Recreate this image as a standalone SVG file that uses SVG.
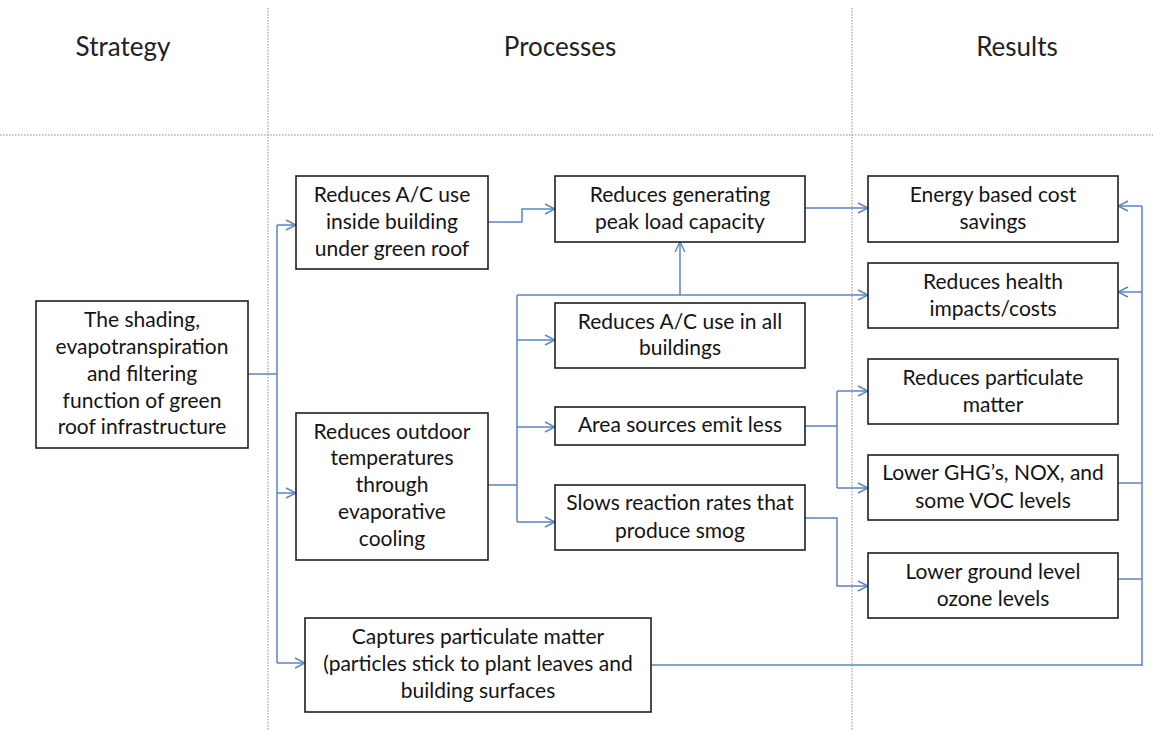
<svg xmlns="http://www.w3.org/2000/svg" width="1153" height="730" viewBox="0 0 1153 730">
<style>
.box{fill:#fff;stroke:#1e1e1e;stroke-width:1.6}
.t{font-family:Lato,"Open Sans","Liberation Sans",sans-serif;font-size:21px;fill:#141414;text-anchor:middle}
.h{font-family:Lato,"Open Sans","Liberation Sans",sans-serif;font-size:26px;fill:#222;text-anchor:middle}
.dot{stroke:#8a8a8a;stroke-width:1;stroke-dasharray:1.5,1.5;fill:none}
.c{fill:none;stroke:#5a86c0;stroke-width:1.5}
.a{marker-end:url(#arr)}
</style>
<defs>
<marker id="arr" markerUnits="userSpaceOnUse" markerWidth="12" markerHeight="12" viewBox="0 0 12 12" refX="11" refY="6" orient="auto">
<path d="M1,1 L11,6 L1,11" fill="none" stroke="#5a86c0" stroke-width="1.4"/>
</marker>
</defs>
<rect width="1153" height="730" fill="#fff"/>
<g id="grid">
<line class="dot" x1="268" y1="8" x2="268" y2="730"/>
<line class="dot" x1="852" y1="8" x2="852" y2="730"/>
<line class="dot" x1="0" y1="135" x2="1153" y2="135"/>
<text class="h" x="123" y="56">Strategy</text>
<text class="h" x="560" y="56">Processes</text>
<text class="h" x="1017" y="56">Results</text>
</g>
<g id="connectors">
<path class="c" d="M248,374 H277"/>
<path class="c" d="M277,225 V663"/>
<path class="c a" d="M277,225 H296"/>
<path class="c a" d="M277,493 H296"/>
<path class="c a" d="M277,663 H305"/>
<path class="c a" d="M488,222 H522 V209 H555"/>
<path class="c a" d="M805,208 H868"/>
<path class="c" d="M488,485 H517"/>
<path class="c" d="M517,295 V522"/>
<path class="c a" d="M517,295 H868"/>
<path class="c a" d="M680,295 V242"/>
<path class="c a" d="M517,340 H555"/>
<path class="c a" d="M517,427 H555"/>
<path class="c a" d="M517,522 H555"/>
<path class="c" d="M805,426 H837"/>
<path class="c" d="M837,391 V488"/>
<path class="c a" d="M837,391 H868"/>
<path class="c a" d="M837,488 H868"/>
<path class="c a" d="M805,518 H837 V586 H868"/>
<path class="c" d="M1142,206 V666"/>
<path class="c a" d="M1142,206 H1118"/>
<path class="c a" d="M1142,292 H1118"/>
<path class="c" d="M1118,483 H1142"/>
<path class="c" d="M1118,579 H1142"/>
<path class="c" d="M651,665 H1142"/>
</g>
<g id="strategy">
<rect class="box" x="36" y="301" width="212" height="147"/>
<text class="t" x="142" y="327">The shading,</text>
<text class="t" x="142" y="354">evapotranspiration</text>
<text class="t" x="142" y="381">and filtering</text>
<text class="t" x="142" y="408">function of green</text>
<text class="t" x="142" y="434">roof infrastructure</text>
</g>
<g id="ac-inside">
<rect class="box" x="296" y="176" width="192" height="93"/>
<text class="t" x="392" y="202">Reduces A/C use</text>
<text class="t" x="392" y="229">inside building</text>
<text class="t" x="392" y="256">under green roof</text>
</g>
<g id="outdoor">
<rect class="box" x="296" y="413" width="192" height="147"/>
<text class="t" x="392" y="439">Reduces outdoor</text>
<text class="t" x="392" y="465">temperatures</text>
<text class="t" x="392" y="492">through</text>
<text class="t" x="392" y="519">evaporative</text>
<text class="t" x="392" y="546">cooling</text>
</g>
<g id="captures">
<rect class="box" x="305" y="618" width="346" height="94"/>
<text class="t" x="478" y="644">Captures particulate matter</text>
<text class="t" x="478" y="671">(particles stick to plant leaves and</text>
<text class="t" x="478" y="698">building surfaces</text>
</g>
<g id="peak">
<rect class="box" x="555" y="176" width="250" height="66"/>
<text class="t" x="680" y="202">Reduces generating</text>
<text class="t" x="680" y="229">peak load capacity</text>
</g>
<g id="ac-all">
<rect class="box" x="555" y="303" width="250" height="65"/>
<text class="t" x="680" y="329">Reduces A/C use in all</text>
<text class="t" x="680" y="355">buildings</text>
</g>
<g id="area">
<rect class="box" x="555" y="407" width="250" height="38"/>
<text class="t" x="680" y="432">Area sources emit less</text>
</g>
<g id="slows">
<rect class="box" x="555" y="485" width="250" height="65"/>
<text class="t" x="680" y="510">Slows reaction rates that</text>
<text class="t" x="680" y="538">produce smog</text>
</g>
<g id="energy">
<rect class="box" x="868" y="176" width="250" height="66"/>
<text class="t" x="993" y="202">Energy based cost</text>
<text class="t" x="993" y="229">savings</text>
</g>
<g id="health">
<rect class="box" x="868" y="263" width="250" height="65"/>
<text class="t" x="993" y="289">Reduces health</text>
<text class="t" x="993" y="316">impacts/costs</text>
</g>
<g id="particulate">
<rect class="box" x="868" y="359" width="250" height="65"/>
<text class="t" x="993" y="385">Reduces particulate</text>
<text class="t" x="993" y="412">matter</text>
</g>
<g id="ghg">
<rect class="box" x="868" y="455" width="250" height="65"/>
<text class="t" x="993" y="480">Lower GHG’s, NOX, and</text>
<text class="t" x="993" y="508">some VOC levels</text>
</g>
<g id="ozone">
<rect class="box" x="868" y="553" width="250" height="65"/>
<text class="t" x="993" y="579">Lower ground level</text>
<text class="t" x="993" y="606">ozone levels</text>
</g>
</svg>
